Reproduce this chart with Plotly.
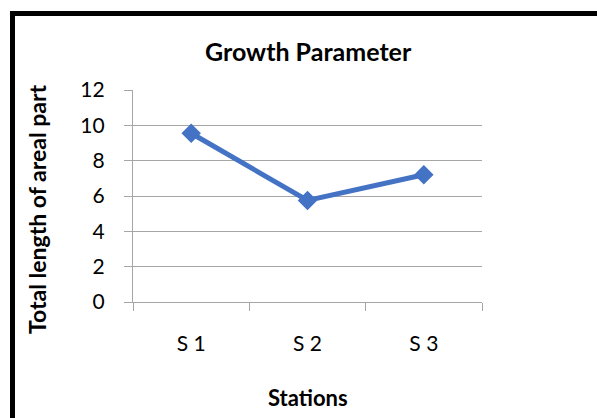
import plotly.graph_objects as go

stations = ["S 1", "S 2", "S 3"]
total_length = [9.55, 5.75, 7.2]
y_ticks = [0, 2, 4, 6, 8, 10, 12]

W, H = 597, 418
L, R, T, B = 133, 115, 90, 116
pw, ph = W - L - R, H - T - B

def px_x(px):
    return (px - L) / pw

def px_y(py):
    return (H - B - py) / ph

fig = go.Figure()
fig.add_trace(go.Scatter(
    x=stations, y=total_length, mode="lines+markers",
    line=dict(color="#4472C4", width=5),
    marker=dict(symbol="diamond", size=15, color="#4472C4"),
    showlegend=False, cliponaxis=False,
))

FONT = "Lato, Carlito, sans-serif"
tick_font = dict(family=FONT, size=21, color="#000000")
fig.update_layout(
    width=W, height=H,
    margin=dict(l=L, r=R, t=T, b=B, pad=0),
    paper_bgcolor="white", plot_bgcolor="white",
    xaxis=dict(
        type="category", range=[-0.5, 2.5], tickson="boundaries",
        showgrid=False, showline=True, linecolor="#a6a6a6", linewidth=1.3,
        ticks="outside", ticklen=8, tickcolor="#a6a6a6", tickwidth=1.3,
        tickfont=tick_font, ticklabelstandoff=23,
    ),
    yaxis=dict(
        range=[0, 12], tickvals=y_ticks, showgrid=True, gridcolor="#a6a6a6",
        gridwidth=1.3, showline=True, linecolor="#a6a6a6", linewidth=1.3,
        ticks="outside", ticklen=8, tickcolor="#a6a6a6", tickwidth=1.3,
        tickfont=tick_font, zeroline=False, ticklabelstandoff=15,
    ),
    annotations=[
        dict(text="<b>Growth Parameter</b>", xref="paper", yref="paper",
             x=px_x(308), y=px_y(51), xanchor="center", yanchor="middle",
             showarrow=False, font=dict(family=FONT, size=25, color="#000")),
        dict(text="<b>Stations</b>", xref="paper", yref="paper",
             x=px_x(308), y=px_y(397), xanchor="center", yanchor="middle",
             showarrow=False, font=dict(family=FONT, size=22, color="#000")),
        dict(text="<b>Total length of areal part</b>", xref="paper", yref="paper",
             x=px_x(37), y=px_y(209), xanchor="center", yanchor="middle",
             showarrow=False, textangle=-90,
             font=dict(family=FONT, size=23, color="#000")),
    ],
    shapes=[
        dict(type="rect", xref="paper", yref="paper",
             x0=px_x(12.5), x1=px_x(640), y0=px_y(13.5), y1=px_y(460),
             line=dict(color="black", width=5), fillcolor="rgba(0,0,0,0)", layer="above"),
    ],
)

fig.write_html("out.html", config={"displayModeBar": False},
               post_script="document.body.style.margin='0';document.body.style.overflow='hidden';")
